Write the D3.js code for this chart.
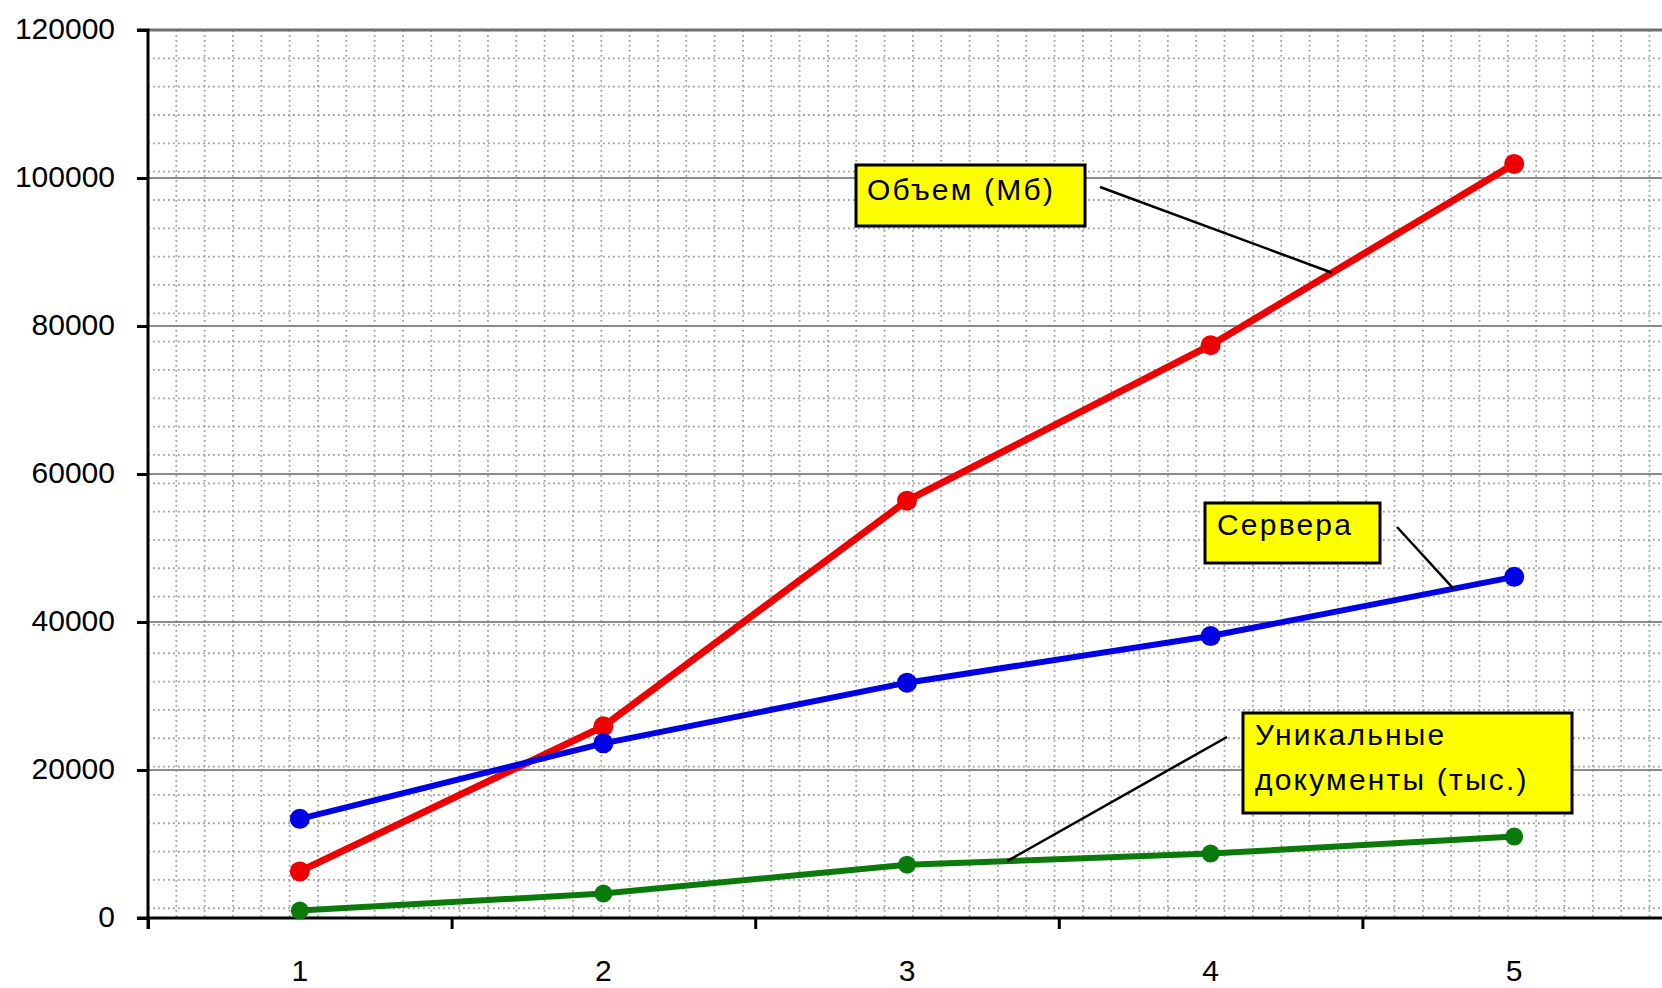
<!DOCTYPE html>
<html>
<head>
<meta charset="utf-8">
<script src="https://cdn.jsdelivr.net/npm/d3@7"></script>
<style>
  html, body { margin: 0; padding: 0; background: #fff; }
  svg { display: block; }
  text { font-family: "Liberation Sans", Arial, sans-serif; fill: #000; }
</style>
</head>
<body>
<svg id="chart" width="1662" height="988"></svg>
<script>
// data
const categories = [1, 2, 3, 4, 5];
const volumeMb   = [6300, 25900, 56400, 77400, 101900];   // Объем (Мб)
const servers    = [13400, 23600, 31800, 38100, 46100];   // Сервера
const uniqueDocs = [1000, 3300, 7200, 8700, 11000];       // Уникальные документы (тыс.)
const yTicks = [0, 20000, 40000, 60000, 80000, 100000, 120000];

const series = [
  {name: "volume",  values: volumeMb,   color: "#ee0000", width: 7, r: 10},
  {name: "servers", values: servers,    color: "#0000e6", width: 6, r: 10},
  {name: "docs",    values: uniqueDocs, color: "#0a7a0a", width: 6, r: 9}
];

// label boxes (pixels) + where the leader line meets its series (category units)
const notes = [
  {lines: ["Объем (Мб)"], box: [856, 165, 229, 61], tx: 867, ty: [200],
   from: [1100, 187], series: 0, atX: 4.40},
  {lines: ["Сервера"], box: [1205, 503, 175, 60], tx: 1217, ty: [535],
   from: [1397, 527], series: 1, atX: 4.80},
  {lines: ["Уникальные", "документы (тыс.)"], box: [1243, 713, 329, 100], tx: 1255, ty: [745, 790],
   from: [1227, 737], series: 2, atX: 3.33}
];

const svg = d3.select("#chart");
const padL = 148, padT = 30, padB = 918, padR = 1666;

const x = d3.scaleLinear().domain([0.5, 5.5]).range([padL, padR]);
const y = d3.scaleLinear().domain([0, 120000]).range([padB, padT]);

// dotted background pattern
const bg = svg.append("g").attr("class", "bgGrid");
const cell = 28.33;
for (let gx = padL + cell; gx < 1662; gx += cell) {
  bg.append("line").attr("x1", gx).attr("x2", gx).attr("y1", padT).attr("y2", padB)
    .attr("stroke", "#a0a0a0").attr("stroke-width", 1.8).attr("stroke-dasharray", "1.8,3.2");
}
for (let gy = padT + cell; gy < padB; gy += cell) {
  bg.append("line").attr("x1", padL).attr("x2", 1662).attr("y1", gy).attr("y2", gy)
    .attr("stroke", "#a0a0a0").attr("stroke-width", 1.8).attr("stroke-dasharray", "1.8,3.2");
}

// major gridlines
svg.append("g").selectAll("line").data(yTicks.filter(d => d > 0)).enter()
  .append("line")
  .attr("x1", padL).attr("x2", 1662)
  .attr("y1", d => y(d)).attr("y2", d => y(d))
  .attr("stroke", d => d === 120000 ? "#707070" : "#8a8a8a")
  .attr("stroke-width", d => d === 120000 ? 3 : 2);

// axes
const yAxis = svg.append("g").attr("transform", "translate(" + padL + ",0)")
  .call(d3.axisLeft(y).tickValues(yTicks).tickSize(11).tickPadding(22).tickFormat(d3.format("d")));
const xAxis = svg.append("g").attr("transform", "translate(0," + padB + ")")
  .call(d3.axisBottom(x).tickValues(d3.range(0.5, 5.6, 1)).tickSize(11).tickFormat(""));

[yAxis, xAxis].forEach(function(a){
  a.select(".domain").attr("stroke", "#000").attr("stroke-width", 3);
  a.selectAll(".tick line").attr("stroke", "#000").attr("stroke-width", 3);
});
yAxis.select(".domain").attr("d", "M-11," + padT + "H0V" + (padB + 11));
xAxis.select(".domain").attr("d", "M" + (padL - 11) + ",0H" + padR);
yAxis.selectAll(".tick text").attr("font-size", 30).attr("dy", "0.28em")
  .style("font-family", "'Liberation Sans', Arial, sans-serif");

svg.append("g").selectAll("text").data(categories).enter()
  .append("text")
  .attr("x", d => x(d)).attr("y", 981)
  .attr("text-anchor", "middle").attr("font-size", 30)
  .text(d => d);

// series
const line = d3.line().x((d, i) => x(categories[i])).y(d => y(d));
const plot = svg.append("g").attr("class", "series");
series.forEach(function(s){
  plot.append("path").datum(s.values)
    .attr("fill", "none").attr("stroke", s.color)
    .attr("stroke-width", s.width).attr("stroke-linejoin", "round")
    .attr("d", line);
  plot.selectAll(".pt-" + s.name).data(s.values).enter()
    .append("circle")
    .attr("cx", (d, i) => x(categories[i]))
    .attr("cy", d => y(d))
    .attr("r", s.r)
    .attr("fill", s.color);
});

// labels with leader lines
function valueAt(vals, cx){
  const i = Math.min(Math.floor(cx) - 1, vals.length - 2);
  const t = cx - (i + 1);
  return vals[i] + (vals[i + 1] - vals[i]) * t;
}
const ann = svg.append("g").attr("class", "notes");
notes.forEach(function(n){
  const s = series[n.series];
  ann.append("line")
    .attr("x1", n.from[0]).attr("y1", n.from[1])
    .attr("x2", x(n.atX)).attr("y2", y(valueAt(s.values, n.atX)))
    .attr("stroke", "#000").attr("stroke-width", 2.5);
  ann.append("rect")
    .attr("x", n.box[0]).attr("y", n.box[1]).attr("width", n.box[2]).attr("height", n.box[3])
    .attr("fill", "#ffff00").attr("stroke", "#000").attr("stroke-width", 3);
  n.lines.forEach(function(t, k){
    ann.append("text").attr("x", n.tx).attr("y", n.ty[k])
      .attr("font-size", 30).attr("letter-spacing", 2.2)
      .text(t);
  });
});
</script>
</body>
</html>
